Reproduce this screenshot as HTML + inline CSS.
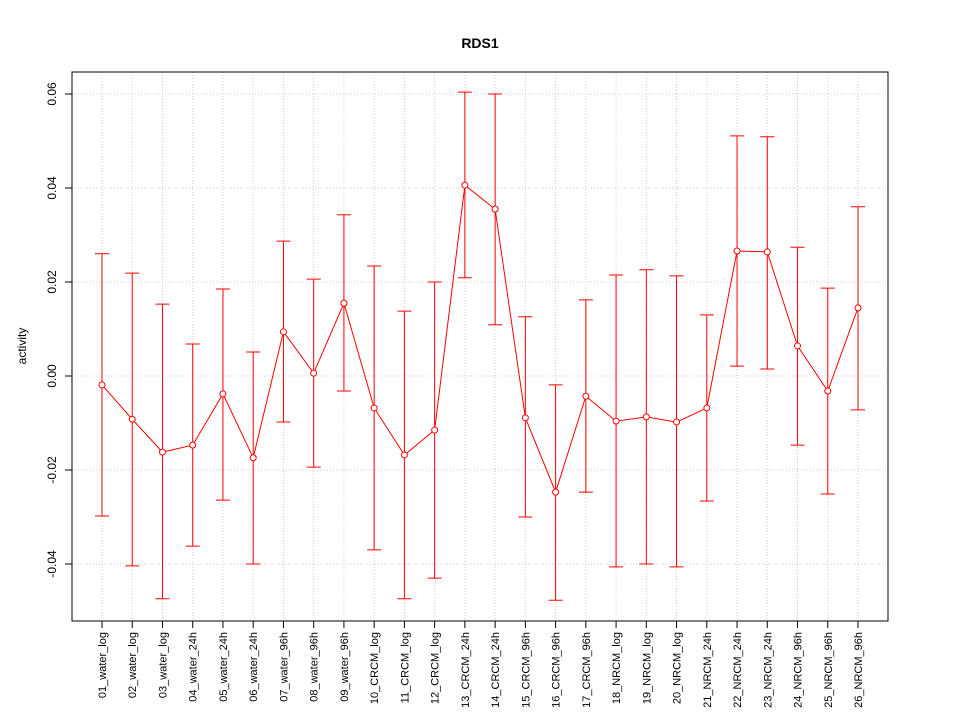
<!DOCTYPE html>
<html><head><meta charset="utf-8"><style>
html,body{margin:0;padding:0;background:#fff;}
svg{display:block;font-family:"Liberation Sans",Arial,sans-serif;}
</style></head><body>
<svg id="chart" width="960" height="720">
<text x="480" y="48" text-anchor="middle" font-size="14" font-weight="bold">RDS1</text>
<text transform="translate(26,346) rotate(-90)" text-anchor="middle" font-size="12">activity</text>
<g id="grid"></g>
<g id="marks"></g>
<g id="axes"></g>
<rect x="72" y="72" width="816" height="549" fill="none" stroke="#000"/>
</svg>
<script>
const categories=["01_water_log","02_water_log","03_water_log","04_water_24h","05_water_24h","06_water_24h","07_water_96h","08_water_96h","09_water_96h","10_CRCM_log","11_CRCM_log","12_CRCM_log","13_CRCM_24h","14_CRCM_24h","15_CRCM_96h","16_CRCM_96h","17_CRCM_96h","18_NRCM_log","19_NRCM_log","20_NRCM_log","21_NRCM_24h","22_NRCM_24h","23_NRCM_24h","24_NRCM_96h","25_NRCM_96h","26_NRCM_96h"];
const means=[-0.0019,-0.0092,-0.0162,-0.0147,-0.0038,-0.0174,0.0094,0.0006,0.0155,-0.0068,-0.0168,-0.0115,0.0406,0.0355,-0.0089,-0.0247,-0.0043,-0.0096,-0.0087,-0.0098,-0.0068,0.0266,0.0264,0.0064,-0.0032,0.0145];
const uppers=[0.026,0.0219,0.0153,0.0068,0.0185,0.0051,0.0287,0.0206,0.0343,0.0234,0.0138,0.02,0.0604,0.06,0.0126,-0.0019,0.0162,0.0215,0.0226,0.0213,0.013,0.0511,0.0509,0.0274,0.0187,0.036];
const lowers=[-0.0298,-0.0404,-0.0474,-0.0362,-0.0264,-0.04,-0.0098,-0.0194,-0.0032,-0.037,-0.0474,-0.043,0.0209,0.0109,-0.03,-0.0477,-0.0247,-0.0406,-0.04,-0.0406,-0.0266,0.0021,0.0015,-0.0147,-0.0251,-0.0072];
const yTicks=[-0.04,-0.02,0.00,0.02,0.04,0.06];
const yTickLabels=["-0.04","-0.02","0.00","0.02","0.04","0.06"];
const NS="http://www.w3.org/2000/svg";
const xS=i=>102+i*(858-102)/(categories.length-1);
const yS=v=>376-v*4700;
function mk(tag,attrs,parent){const e=document.createElementNS(NS,tag);for(const k in attrs)e.setAttribute(k,attrs[k]);parent.appendChild(e);return e;}
const grid=document.getElementById('grid'),marks=document.getElementById('marks'),axes=document.getElementById('axes');
categories.forEach((c,i)=>{
 const g=mk('line',{x1:xS(i),x2:xS(i),y1:72,y2:621,stroke:'#ccc','stroke-dasharray':'1,2'},grid);
 
 
 const t=mk('line',{x1:xS(i),x2:xS(i),y1:621,y2:628,stroke:'#000'},axes);
 
 
 const l=mk('text',{transform:`translate(${xS(i)+4},632) rotate(-90)`,'text-anchor':'end','font-size':'11'},axes);
 l.textContent=c;
 
 
});
yTicks.forEach((v,i)=>{
 const g=mk('line',{x1:72,x2:888,y1:yS(v),y2:yS(v),stroke:'#ccc','stroke-dasharray':'1,2'},grid);
 
 
 const t=mk('line',{x1:65,x2:72,y1:yS(v),y2:yS(v),stroke:'#000'},axes);
 
 
 const l=mk('text',{transform:`translate(56,${yS(v)}) rotate(-90)`,'text-anchor':'middle','font-size':'12'},axes);
 l.textContent=yTickLabels[i];
 
 
});
means.forEach((m,i)=>{
 const x=xS(i);
 const e=mk('path',{d:`M${x},${yS(lowers[i])}V${yS(uppers[i])}M${x-7},${yS(uppers[i])}H${x+7}M${x-7},${yS(lowers[i])}H${x+7}`,stroke:'red',fill:'none'},marks);
 
 
});
const pts=means.map((m,i)=>xS(i)+','+yS(m)).join(' ');
const pl=mk('polyline',{points:pts,fill:'none',stroke:'red'},marks);


means.forEach((m,i)=>{
 const c=mk('circle',{cx:xS(i),cy:yS(m),r:3,fill:'#fff',stroke:'red'},marks);
 
 
});
</script>
</body></html>
